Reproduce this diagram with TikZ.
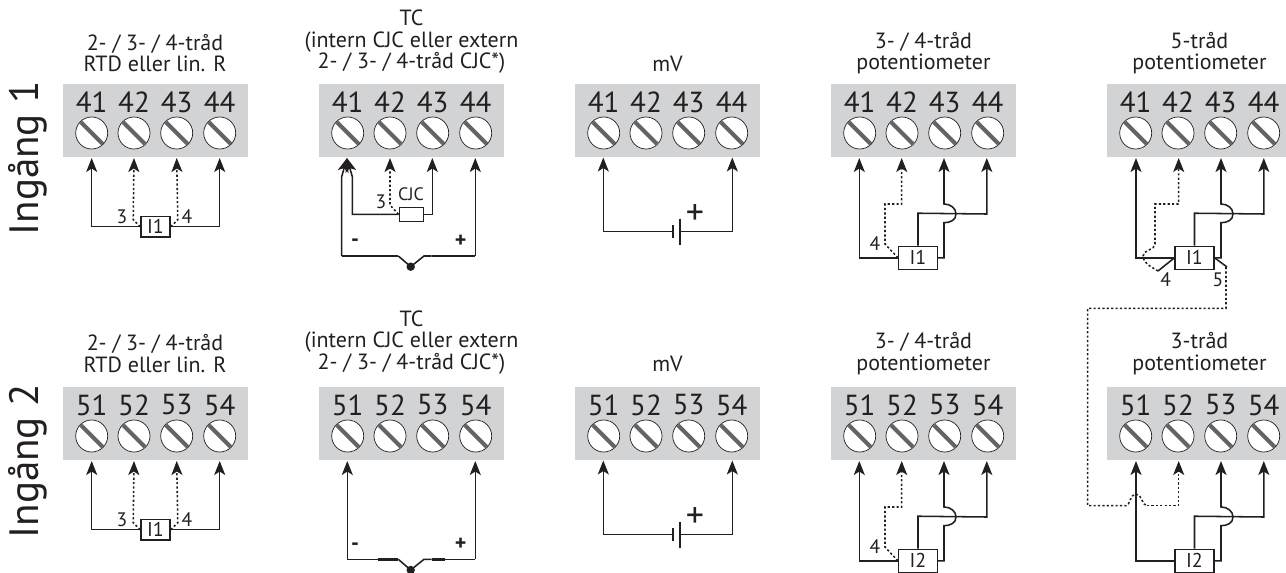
\documentclass[tikz,border=0pt]{standalone}
\usepackage{fontspec}
\setmainfont{PT Sans}
\usetikzlibrary{calc, arrows.meta}

\definecolor{blockgrey}{RGB}{209,211,212}
\definecolor{slotgrey}{RGB}{99,100,102}
\definecolor{wirecol}{RGB}{35,31,32}

\tikzset{
	wire/.style = {draw = wirecol, line width = 1.55pt},
	feed/.style = {wire, -{Stealth[length = 14pt, width = 11pt, inset = 3.5pt]}},
	dotwire/.style = {wire, dash pattern = on 2.2pt off 2.2pt},
	dotfeed/.style = {dotwire, -{Stealth[length = 14pt, width = 11pt, inset = 3.5pt]}},
	unit/.style = {draw = wirecol, fill = white, line width = 1.55pt, inner sep = 0pt, text = wirecol, font = \fontsize{20}{20}\selectfont},
	title/.style = {align = center, text = wirecol, font = \fontsize{22}{21.5}\selectfont},
	pin/.style = {text = wirecol, inner sep = 0pt, font = \fontsize{19.5}{19.5}\selectfont},
	sign/.style = {text = wirecol, inner sep = 0pt, font = \bfseries\fontsize{22}{22}\selectfont},
	side/.style = {text = wirecol, inner sep = 0pt, rotate = 90, font = \fontsize{41}{41}\selectfont}
}

% one grey terminal strip with four screws
\newcommand{\strip}[3]{
	\fill [blockgrey] (#1,#2) rectangle ++(185,73);
	\foreach \n/\dx in {1/28.7, 2/71, 3/113.7, 4/156.7} {
		\node [text = wirecol, inner sep = 0pt, font = \fontsize{29}{29}\selectfont] (t#1n\n) at (#1+\dx,#2+18) {#3\n};
		\draw [wirecol, fill = white, line width = .7pt] (#1+\dx,#2+49) circle [radius = 16];
		\draw [slotgrey, line width = 4pt] ($(#1+\dx,#2+49) + (45:15.4)$) -- ($(#1+\dx,#2+49) + (225:15.4)$);
	}
}

% 2- / 3- / 4-wire panel
\newcommand{\rtdpanel}[2]{
	\node [unit, minimum width = 29pt, minimum height = 20.7pt] (rtd#2) at (155.5,#1+142.7) {I1};
	\coordinate (a#2) at (91.7,#1+74);
	\coordinate (b#2) at (134,#1+74);
	\coordinate (c#2) at (176.7,#1+74);
	\coordinate (d#2) at (219.7,#1+74);
	\draw [feed] (rtd#2.west) -- (a#2 |- rtd#2.west) -- (a#2);
	\draw [feed] (rtd#2.east) -- (d#2 |- rtd#2.east) -- (d#2);
	\draw [dotfeed] (rtd#2.west) -- ++(-7,-7) -- (b#2);
	\draw [dotfeed] (rtd#2.east) -- ++(7,-7) -- (c#2);
	\node [pin] (rtdl#2) at (122,#1+133) {3};
	\node [pin] (rtdr#2) at (187,#1+133) {4};
}

% thermocouple tail, both ends go up to the named points
\newcommand{\tcpair}[3]{
	\coordinate (lft#3) at (#1,#2);
	\coordinate (rgt#3) at (475.3,#2);
	\fill [wirecol] (410.7,#2+10.7) circle [radius = 4.2] coordinate (joint#3);
	\draw [wire] (lft#3) -- (377.7,#2);
	\draw [wirecol, line width = 2.6pt] (377.7,#2) -- (398.3,#2);
	\draw [wire] (398.3,#2) -- (joint#3) -- (424,#2) -- (431.7,#2);
	\draw [wirecol, line width = 2.6pt] (431.7,#2) -- (445,#2);
	\draw [wire] (445,#2) -- (rgt#3);
}

% battery panel
\newcommand{\mvpanel}[2]{
	\coordinate (p#2) at (673.3,#1+147.7);
	\coordinate (q#2) at (680,#1+147.7);
	\coordinate (a#2) at (603.3,#1+73.5);
	\coordinate (d#2) at (732.3,#1+73.5);
	\draw [feed] (p#2) -- (a#2 |- p#2) -- (a#2);
	\draw [feed] (q#2) -- (d#2 |- q#2) -- (d#2);
	\draw [wirecol, line width = 1.8pt] ($(p#2)+(0,-6.3)$) -- ($(p#2)+(0,6.3)$);
	\draw [wirecol, line width = 2.4pt] ($(q#2)+(0,-13)$) -- ($(q#2)+(0,13)$);
	\node [inner sep = 0pt, text = wirecol, font = \fontsize{36}{36}\selectfont] (plus#2) at (695,#1+131) {+};
}

% the two upper wires shared by the potentiometer panels
\newcommand{\potwires}[4]{
	\coordinate (c#4) at (#1+112.7,#2+74);
	\coordinate (d#4) at (#1+155.5,#2+74);
	\draw [feed] (#3.north) ++(0,0) -- ++(0,-32.3) -- (d#4 |- 0,#2+130) -- (d#4);
	\draw [feed] (#3.east) -- (c#4 |- #3.east) -- (#1+112.7,#2+138.7)
		.. controls (#1+119,#2+138.7) and (#1+124.7,#2+136) .. (#1+124.7,#2+130)
		.. controls (#1+124.7,#2+124) and (#1+119,#2+120) .. (#1+112.7,#2+120) -- (c#4);
}

\begin{document}
\begin{tikzpicture}[x = 1pt, y = -1pt]
	\useasboundingbox (0,0) rectangle (1286,573);

	\foreach \bx in {63, 319, 575, 831, 1107} {
		\strip{\bx}{84}{4}
		\strip{\bx}{387}{5}
	}

	\node [side] (inp1) at (27.5,158) {Ingång 1};
	\node [side] (inp2) at (27.5,461) {Ingång 2};

	% titles
	\node [title] (h1) at (155,53) {2- / 3- / 4-tråd\\RTD eller lin. R};
	\node [title] (h2) at (411.5,42) {TC\\(intern CJC eller extern\\2- / 3- / 4-tråd CJC*)};
	\node [title] (h3) at (667.5,64) {mV};
	\node [title] (h4) at (923.5,53) {3- / 4-tråd\\potentiometer};
	\node [title] (h5) at (1199.5,53) {5-tråd\\potentiometer};
	\node [title] (h6) at (155,353.5) {2- / 3- / 4-tråd\\RTD eller lin. R};
	\node [title] (h7) at (411.5,342.5) {TC\\(intern CJC eller extern\\2- / 3- / 4-tråd CJC*)};
	\node [title] (h8) at (667.5,364) {mV};
	\node [title] (h9) at (923.5,353.5) {3- / 4-tråd\\potentiometer};
	\node [title] (h10) at (1199.5,353.5) {3-tråd\\potentiometer};

	\rtdpanel{84}{A}
	\rtdpanel{387}{B}
	\mvpanel{84}{C}
	\mvpanel{387}{D}

	% TC, upper row
	\tcpair{341.7}{256}{E}
	\coordinate (tip1) at (347,158);
	\coordinate (tip2) at (390,158);
	\coordinate (tip3) at (432.3,158);
	\coordinate (tip4) at (475.3,158);
	\node [unit, minimum width = 24pt, minimum height = 14pt] (cjc) at (411.3,214.3) {};
	\draw [feed] (lftE) -- (341.7,176.7) -- (tip1);
	\draw [feed] (cjc.west) -- (352.3,214.3) -- (352.3,176.7) -- (tip1);
	\draw [feed] (cjc.east) -- (tip3 |- cjc.east) -- (tip3);
	\draw [feed] (rgtE) -- (tip4);
	\draw [dotfeed] (cjc.west) -- (390,205) -- (tip2);
	\node [pin] (cjcpin) at (381,201.7) {3};
	\node [pin, font = \fontsize{18}{18}\selectfont] (cjctxt) at (411,194) {CJC};
	\node [sign] (minus1) at (355,243) {-};
	\node [sign] (plus1) at (460.7,241.7) {+};

	% TC, lower row
	\tcpair{347.3}{559.3}{F}
	\coordinate (tip5) at (347.3,461);
	\coordinate (tip6) at (475.3,461);
	\draw [feed] (lftF) -- (tip5);
	\draw [feed] (rgtF) -- (tip6);
	\node [sign] (minus2) at (355,547) {-};
	\node [sign] (plus2) at (460.7,544.7) {+};

	% 3- / 4-wire potentiometer, upper row
	\node [unit, minimum width = 38.6pt, minimum height = 23pt] (pot1) at (918,257.8) {I1};
	\potwires{831.3}{84}{pot1}{G}
	\draw [feed] (pot1.west) -- (859.3,257.8) -- (859.3,158);
	\draw [dotfeed] (pot1.west) -- (885,244) -- (885,204) -- (901.7,204) -- (901.7,158);
	\node [pin] (potpin1) at (875,244) {4};

	% 3- / 4-wire potentiometer, lower row
	\node [unit, minimum width = 38.6pt, minimum height = 23pt] (pot2) at (918,560.8) {I2};
	\potwires{831.3}{387}{pot2}{H}
	\draw [feed] (pot2.west) -- (859.3,560.8) -- (859.3,461);
	\draw [dotfeed] (pot2.west) -- (885,547) -- (885,507) -- (901.7,507) -- (901.7,461);
	\node [pin] (potpin2) at (875,547) {4};

	% 5-wire potentiometer
	\node [unit, minimum width = 38.6pt, minimum height = 23pt] (pot3) at (1194.5,257.8) {I1};
	\potwires{1108.3}{84}{pot3}{J}
	\draw [feed] (pot3.west) -- (1136,257.8) -- (1136,158);
	\draw [dotfeed] (1158,271) .. controls (1150,266) and (1143,263) .. (1143,256)
		.. controls (1143,250) and (1155,250) .. (1155,244) -- (1155,204) -- (1178.7,204) -- (1178.7,158);
	\draw [wire] (pot3.west) -- (1158,271);
	\draw [wire] (pot3.east) -- (1227,267);
	\draw [dotwire] (1226,267) -- (1226,308.3) -- (1087.7,308.3) -- (1087.7,505.7) -- (1126,505.7)
		.. controls (1130,505.7) and (1130,494) .. (1136,494)
		.. controls (1142,494) and (1142,505.7) .. (1147,505.7);
	\draw [dotfeed] (1147,505.7) -- (1178.7,505.7) -- (1178.7,461);
	\node [pin] (potpin3) at (1165.7,280) {4};
	\node [pin] (potpin4) at (1218,280) {5};

	% 3-wire potentiometer
	\node [unit, minimum width = 38.6pt, minimum height = 23pt] (pot4) at (1194.5,560.8) {I2};
	\potwires{1108.3}{387}{pot4}{K}
	\draw [feed] (pot4.west) -- (1136,560.8) -- (1136,461);
\end{tikzpicture}
\end{document}
